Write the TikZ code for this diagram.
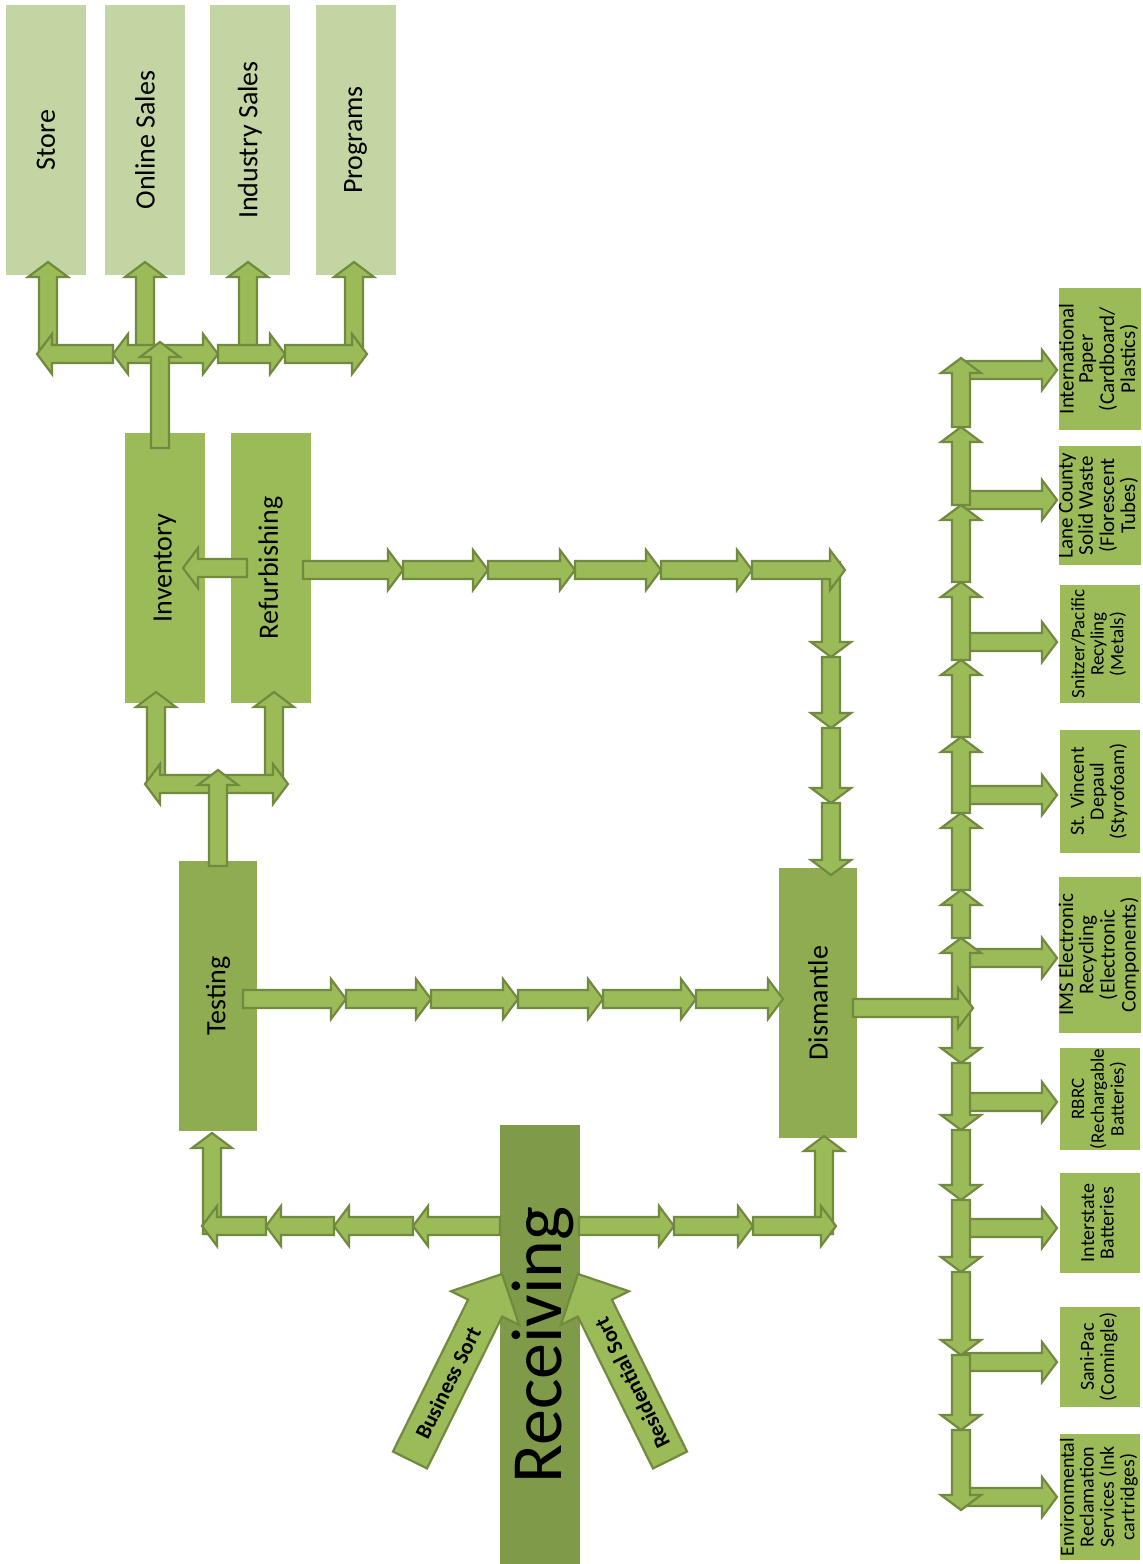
\documentclass[tikz,border=0pt]{standalone}
\usepackage{fontspec}
\setmainfont{Carlito}
\usepackage{graphicx}
\usetikzlibrary{calc}
\definecolor{cLight}{HTML}{C3D5A2}
\definecolor{cMid}{HTML}{9BBB59}
\definecolor{cDark}{HTML}{8FAC50}
\definecolor{cRecv}{HTML}{7F9A48}
\definecolor{cArrFill}{HTML}{9BBB59}
\definecolor{cArrLine}{HTML}{728A3F}
\newcommand{\vbig}[1]{\rotatebox{90}{\fontsize{14}{17}\selectfont #1}}
\newcommand{\vsmall}[2][10]{\rotatebox{90}{\fontsize{#1}{9.6}\selectfont\begin{tabular}{@{}c@{}}#2\end{tabular}}}
% general block arrow: start, end, shaft half width, head half width, head length (pt)
\newcommand{\blkg}[5]{%
 \path[blkstyle] let \p1=#1, \p2=#2,
   \n1={veclen(\x2-\x1,\y2-\y1)},
   \n2={(\x2-\x1)/(\n1)}, \n3={(\y2-\y1)/(\n1)},
   \n4={\n1-#5} in
   ({\x1-(\n3)*#3},{\y1+(\n2)*#3}) --
   ({\x1+(\n2)*(\n4)-(\n3)*#3},{\y1+(\n3)*(\n4)+(\n2)*#3}) --
   ({\x1+(\n2)*(\n4)-(\n3)*#4},{\y1+(\n3)*(\n4)+(\n2)*#4}) --
   (\x2,\y2) --
   ({\x1+(\n2)*(\n4)+(\n3)*#4},{\y1+(\n3)*(\n4)-(\n2)*#4}) --
   ({\x1+(\n2)*(\n4)+(\n3)*#3},{\y1+(\n3)*(\n4)-(\n2)*#3}) --
   ({\x1+(\n3)*#3},{\y1-(\n2)*#3}) -- cycle;}
\newcommand{\blk}[2]{\blkg{#1}{#2}{4.5}{10}{7.5}}
\begin{document}
\begin{tikzpicture}[x=0.5pt,y=-0.5pt,
  topbox/.style={rectangle,inner sep=0pt,fill=cLight,minimum width=40pt,minimum height=135pt},
  stagebox/.style={rectangle,inner sep=0pt,fill=cMid,minimum width=40pt,minimum height=135pt},
  procbox/.style={rectangle,inner sep=0pt,fill=cDark,minimum width=39pt,minimum height=135pt},
  recvbox/.style={rectangle,inner sep=0pt,fill=cRecv,minimum width=40pt,minimum height=219.5pt},
  rbox/.style={rectangle,inner sep=0pt,fill=cMid,minimum width=40pt},
  blkstyle/.style={draw=cArrLine,fill=cArrFill,line width=1.1pt,line join=miter},
  sortlbl/.style={font=\fontsize{11}{13}\selectfont\bfseries,inner sep=0pt}]
\useasboundingbox (0,0) rectangle (1142,1564);
% ---- boxes
\node[topbox] (store) at (46,140) {\vbig{Store}};
\node[topbox] (online) at (145,140) {\vbig{Online Sales}};
\node[topbox] (industry) at (250,140) {\vbig{Industry Sales}};
\node[topbox] (programs) at (355.5,140) {\vbig{Programs}};
\node[stagebox] (inventory) at (165,568) {\vbig{Inventory}};
\node[stagebox] (refurb) at (270.5,568) {\vbig{Refurbishing}};
\node[procbox] (testing) at (218,996) {\vbig{Testing}};
\node[procbox] (dismantle) at (818,1003) {\vbig{Dismantle}};
\node[recvbox] (receiving) at (539.5,1344.5) {};
\node[rbox,minimum height=71pt] (intpaper) at (1100,359) {\vsmall[10.5]{International\\Paper\\(Cardboard/\\Plastics)}};
\node[rbox,minimum height=59.5pt] (lane) at (1100,505.5) {\vsmall[10.5]{Lane County\\Solid Waste\\(Florescent\\Tubes)}};
\node[rbox,minimum height=59pt] (snitzer) at (1100,644) {\vsmall[9.5]{Snitzer/Pacific\\Recyling\\(Metals)}};
\node[rbox,minimum height=61.5pt] (vincent) at (1100,791.5) {\vsmall{St. Vincent\\Depaul\\(Styrofoam)}};
\node[rbox,minimum height=78pt] (ims) at (1100,955) {\vsmall[10.5]{IMS Electronic\\Recycling\\(Electronic\\Components)}};
\node[rbox,minimum height=51pt] (rbrc) at (1100,1099) {\vsmall[9.5]{RBRC\\(Rechargable\\Batteries)}};
\node[rbox,minimum height=50pt] (interstate) at (1100,1223) {\vsmall{Interstate\\Batteries}};
\node[rbox,minimum height=50pt] (sanipac) at (1100,1357) {\vsmall{Sani-Pac\\(Comingle)}};
\node[rbox,minimum height=63pt] (envrec) at (1100,1497) {\vsmall{Environmental\\Reclamation\\Services (Ink\\cartridges)}};
% ---- top distribution
\blk{(48,356)}{(48,262)}
\blk{(145,352)}{(145,262)}
\blk{(248,352)}{(248,262)}
\blk{(354,356)}{(354,262)}
\blk{(113,354)}{(37,354)}
\blk{(160,354)}{(113,354)}
\foreach \a/\b in {160/218,218/285,285/367} {\blk{(\a,354)}{(\b,354)}}
\blk{(160,448)}{(160,342)}
% ---- testing to inventory / refurbishing
\blk{(156,786)}{(156,692)}
\blk{(274,786)}{(274,692)}
\blk{(218,784)}{(145,784)}
\blk{(218,784)}{(288,784)}
\blk{(218,866)}{(218,770)}
% ---- refurbishing to inventory
\blk{(247,568)}{(183,568)}
% ---- refurbishing to dismantle
\foreach \a/\b in {562/657,657/728,728/803,803/875} {\blk{(831,\a)}{(831,\b)}}
\foreach \a/\b in {303/403,403/488,488/575,575/661,661/752,752/845} {\blk{(\a,570)}{(\b,570)}}
% ---- testing to dismantle
\foreach \a/\b in {243/346,346/431,431/518,518/603,603/696,696/783} {\blk{(\a,999)}{(\b,999)}}
% ---- receiving to testing / dismantle
\blk{(212,1234)}{(212,1133)}
\foreach \a/\b in {500/413,413/334,334/266,266/202} {\blk{(\a,1226)}{(\b,1226)}}
\blk{(824,1234)}{(824,1136)}
\foreach \a/\b in {579/674,674/753,753/836} {\blk{(\a,1226)}{(\b,1226)}}
% ---- dismantle bus
\foreach \c in {370,500,642,795,958,1102,1228,1362,1497} {\blk{(961,\c)}{(1057,\c)}}
\foreach \a/\b in {1008/938,938/890,890/813,813/737,737/660,660/582,582/505,505/427,427/358} {\blk{(961,\a)}{(961,\b)}}
\foreach \a/\b in {1008/1063,1063/1130,1130/1200,1200/1272,1272/1355,1355/1430,1430/1510} {\blk{(961,\a)}{(961,\b)}}
\blk{(853,1008)}{(973,1008)}
% ---- sorting arrows into receiving
\blkg{(410,1460)}{(502,1274)}{9.5}{19}{19}
\blkg{(670,1460)}{(578,1274)}{9.5}{19}{19}
\node[sortlbl,rotate=63.7] (bizlbl) at (448,1383) {Business Sort};
\node[sortlbl,rotate=116.3] (reslbl) at (632,1383) {Residential Sort};
\node[font=\fontsize{36}{40}\selectfont,rotate=90,inner sep=0pt] (rectext) at (543,1345) {Receiving};
\end{tikzpicture}
\end{document}
